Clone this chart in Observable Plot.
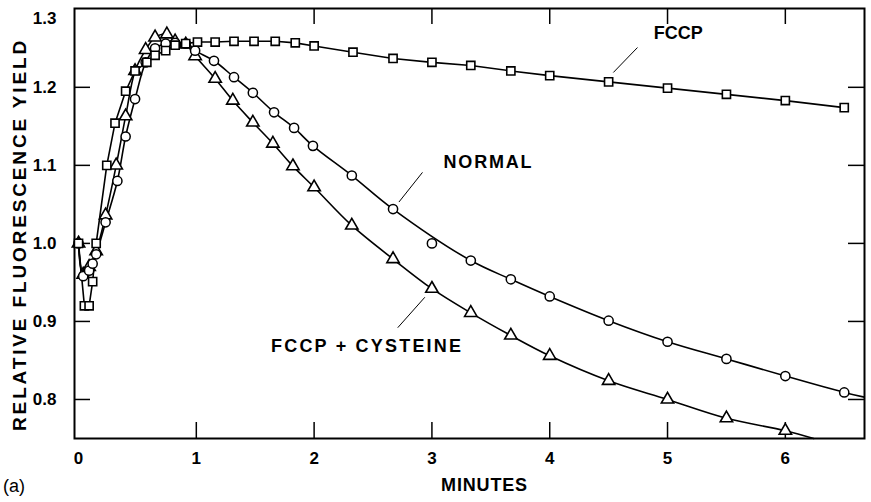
<!DOCTYPE html>
<html>
<head>
<meta charset="utf-8">
<script src="https://cdn.jsdelivr.net/npm/d3@7"></script>
<script src="https://cdn.jsdelivr.net/npm/@observablehq/plot@0.6"></script>
<style>
  html, body { margin: 0; padding: 0; background: #fff; }
  #chart svg { display: block; }
</style>
</head>
<body>
<div id="chart"></div>
<script>
// ---- data ----
const fccpT = [0, 0.05, 0.09, 0.12, 0.15, 0.24, 0.31, 0.40, 0.48, 0.58, 0.65, 0.74, 0.82, 0.91, 1.01, 1.16, 1.32, 1.49, 1.67, 1.84, 2.0, 2.33, 2.67, 3.0, 3.33, 3.67, 4.0, 4.5, 5.0, 5.5, 6.0, 6.5];
const fccpV = [1.0, 0.92, 0.92, 0.951, 1.0, 1.10, 1.154, 1.195, 1.221, 1.232, 1.241, 1.247, 1.254, 1.256, 1.258, 1.258, 1.259, 1.259, 1.259, 1.257, 1.253, 1.245, 1.237, 1.232, 1.228, 1.221, 1.215, 1.207, 1.199, 1.191, 1.183, 1.174];

const normalT = [0, 0.04, 0.09, 0.12, 0.15, 0.23, 0.33, 0.40, 0.48, 0.57, 0.65, 0.74, 0.82, 0.91, 0.99, 1.15, 1.32, 1.48, 1.66, 1.83, 1.99, 2.32, 2.67, 3.0, 3.33, 3.67, 4.0, 4.5, 5.0, 5.5, 6.0, 6.5];
const normalV = [1.0, 0.958, 0.965, 0.974, 0.986, 1.027, 1.08, 1.137, 1.185, 1.232, 1.25, 1.256, 1.257, 1.256, 1.247, 1.234, 1.213, 1.193, 1.168, 1.148, 1.125, 1.087, 1.044, 1.0, 0.978, 0.954, 0.932, 0.901, 0.874, 0.852, 0.830, 0.809];
const normalOffCurve = [3.0];          // plotted point the drawn curve does not pass through
const normalCurveEnd = [6.67, 0.803];   // curve runs on to the right frame

const cysT = [0, 0.04, 0.09, 0.15, 0.23, 0.32, 0.40, 0.48, 0.57, 0.65, 0.75, 0.82, 0.91, 0.99, 1.16, 1.31, 1.48, 1.65, 1.82, 2.0, 2.32, 2.67, 3.0, 3.33, 3.67, 4.0, 4.5, 5.0, 5.5, 6.0];
const cysV = [1.0, 0.96, 0.97, 0.99, 1.036, 1.10, 1.163, 1.221, 1.248, 1.264, 1.268, 1.259, 1.255, 1.24, 1.211, 1.183, 1.155, 1.128, 1.099, 1.072, 1.023, 0.98, 0.942, 0.911, 0.882, 0.856, 0.824, 0.800, 0.776, 0.760];
const cysCurveEnd = [6.24, 0.75];       // curve runs on to the bottom frame

const xTicks = [0, 1, 2, 3, 4, 5, 6];
const yTicks = [0.8, 0.9, 1.0, 1.1, 1.2, 1.3];
const xTitle = "MINUTES";
const yTitle = "RELATIVE FLUORESCENCE YIELD";
const panelTag = "(a)";
const seriesLabels = [
  {text: "FCCP", t: 5.09, v: 1.269},
  {text: "NORMAL", t: 3.48, v: 1.104},
  {text: "FCCP + CYSTEINE", t: 2.45, v: 0.868}
];
const leaders = [
  {t1: 4.745, v1: 1.251, t2: 4.54, v2: 1.219},
  {t1: 2.92, v1: 1.091, t2: 2.72, v2: 1.053},
  {t1: 2.94, v1: 0.931, t2: 2.71, v2: 0.892}
];

// ---- tables ----
const zip = (T, V) => T.map((t, i) => ({t, v: V[i]}));
const fccp = zip(fccpT, fccpV);
const normal = zip(normalT, normalV);
const cys = zip(cysT, cysV);
const normalLine = normal.filter(d => !normalOffCurve.includes(d.t)).concat([{t: normalCurveEnd[0], v: normalCurveEnd[1]}]);
const cysLine = cys.concat([{t: cysCurveEnd[0], v: cysCurveEnd[1]}]);

const FONT = "'Liberation Sans', Arial, sans-serif";
const W = 871, H = 502;
const mL = 74, mR = 7, mT = 8, mB = 64;
const fw = W - mL - mR, fh = H - mT - mB;
const yTop = yTicks[yTicks.length - 1];

const plot = Plot.plot({
  width: W, height: H,
  marginLeft: mL, marginRight: mR, marginTop: mT, marginBottom: mB,
  style: {fontFamily: FONT, background: "#fff", color: "#000"},
  x: {domain: [-0.034, 6.672], axis: null},
  y: {domain: [0.75, 1.301], axis: null},
  marks: [
    Plot.frame({stroke: "#000", strokeWidth: 2}),
    // inward ticks
    Plot.tickX(xTicks.filter(d => d > 0), {x: d => d, insetTop: fh - 16, stroke: "#000", strokeWidth: 1.5}),
    Plot.tickX(xTicks.filter(d => d > 0), {x: d => d, insetBottom: fh - 16, stroke: "#000", strokeWidth: 1.5}),
    Plot.tickY(yTicks.filter(d => d < yTop), {y: d => d, insetRight: fw - 16, stroke: "#000", strokeWidth: 1.5}),
    Plot.tickY(yTicks.filter(d => d < yTop), {y: d => d, insetLeft: fw - 16, stroke: "#000", strokeWidth: 1.5}),
    // tick labels
    Plot.text(xTicks, {x: d => d, frameAnchor: "bottom", dy: 25, text: d => String(d), fontSize: 17, fontWeight: "bold", fill: "#000"}),
    Plot.text(yTicks.filter(d => d < yTop), {y: d => d, frameAnchor: "left", dx: -18, textAnchor: "end", text: d => d.toFixed(1), fontSize: 17, fontWeight: "bold", fill: "#000"}),
    Plot.text([yTop], {y: d => d, frameAnchor: "left", dx: -18, dy: 9, textAnchor: "end", text: d => d.toFixed(1), fontSize: 17, fontWeight: "bold", fill: "#000"}),
    // titles
    Plot.text([xTitle], {frameAnchor: "bottom", dx: 15, dy: 52, textAnchor: "middle", text: d => d, fontSize: 18, fontWeight: "bold", fill: "#000"}),
    Plot.text([yTitle], {frameAnchor: "left", dx: -55, dy: 11, textAnchor: "middle", rotate: -90, text: d => d, fontSize: 19, fontWeight: "bold", fill: "#000"}),
    // lines
    Plot.line(fccp, {x: "t", y: "v", stroke: "#000", strokeWidth: 1.6}),
    Plot.line(normalLine, {x: "t", y: "v", stroke: "#000", strokeWidth: 1.6, curve: "catmull-rom"}),
    Plot.line(cysLine, {x: "t", y: "v", stroke: "#000", strokeWidth: 1.6, curve: "catmull-rom"}),
    // markers
    Plot.dot(cys, {x: "t", y: "v", symbol: "triangle", r: 4.6, fill: "#fff", stroke: "#000", strokeWidth: 1.6}),
    Plot.dot(normal, {x: "t", y: "v", symbol: "circle", r: 4.6, fill: "#fff", stroke: "#000", strokeWidth: 1.5}),
    Plot.dot(fccp, {x: "t", y: "v", symbol: "square", r: 4.6, fill: "#fff", stroke: "#000", strokeWidth: 1.6}),
    // series labels and leader lines
    Plot.link(leaders, {x1: "t1", y1: "v1", x2: "t2", y2: "v2", stroke: "#000", strokeWidth: 1}),
    Plot.text(seriesLabels, {x: "t", y: "v", text: "text", fontSize: 18, fontWeight: "bold", fill: "#000"})
  ]
});
document.getElementById("chart").appendChild(plot);

// widen the letter spacing to match the reference lettering widths
const svg = d3.select(plot);
const labelWidths = {"FCCP": 47, "NORMAL": 88, "FCCP + CYSTEINE": 190, "MINUTES": 86, "RELATIVE FLUORESCENCE YIELD": 390};
svg.selectAll("text")
  .filter(function() { return labelWidths[this.textContent] !== undefined; })
  .each(function() {
    const s = this.textContent, w = labelWidths[s];
    const len = this.getComputedTextLength();
    const ls = Math.max(0, (w - len) / Math.max(1, s.length - 1));
    this.setAttribute("letter-spacing", ls.toFixed(2));
    this.style.letterSpacing = ls.toFixed(2) + "px";
  });

// panel tag "(a)" in the lower-left corner of the SVG
svg.append("text").attr("x", 3).attr("y", 492).attr("text-anchor", "start")
  .attr("font-family", FONT).attr("font-size", 18).attr("fill", "#000")
  .text(panelTag);
</script>
</body>
</html>
